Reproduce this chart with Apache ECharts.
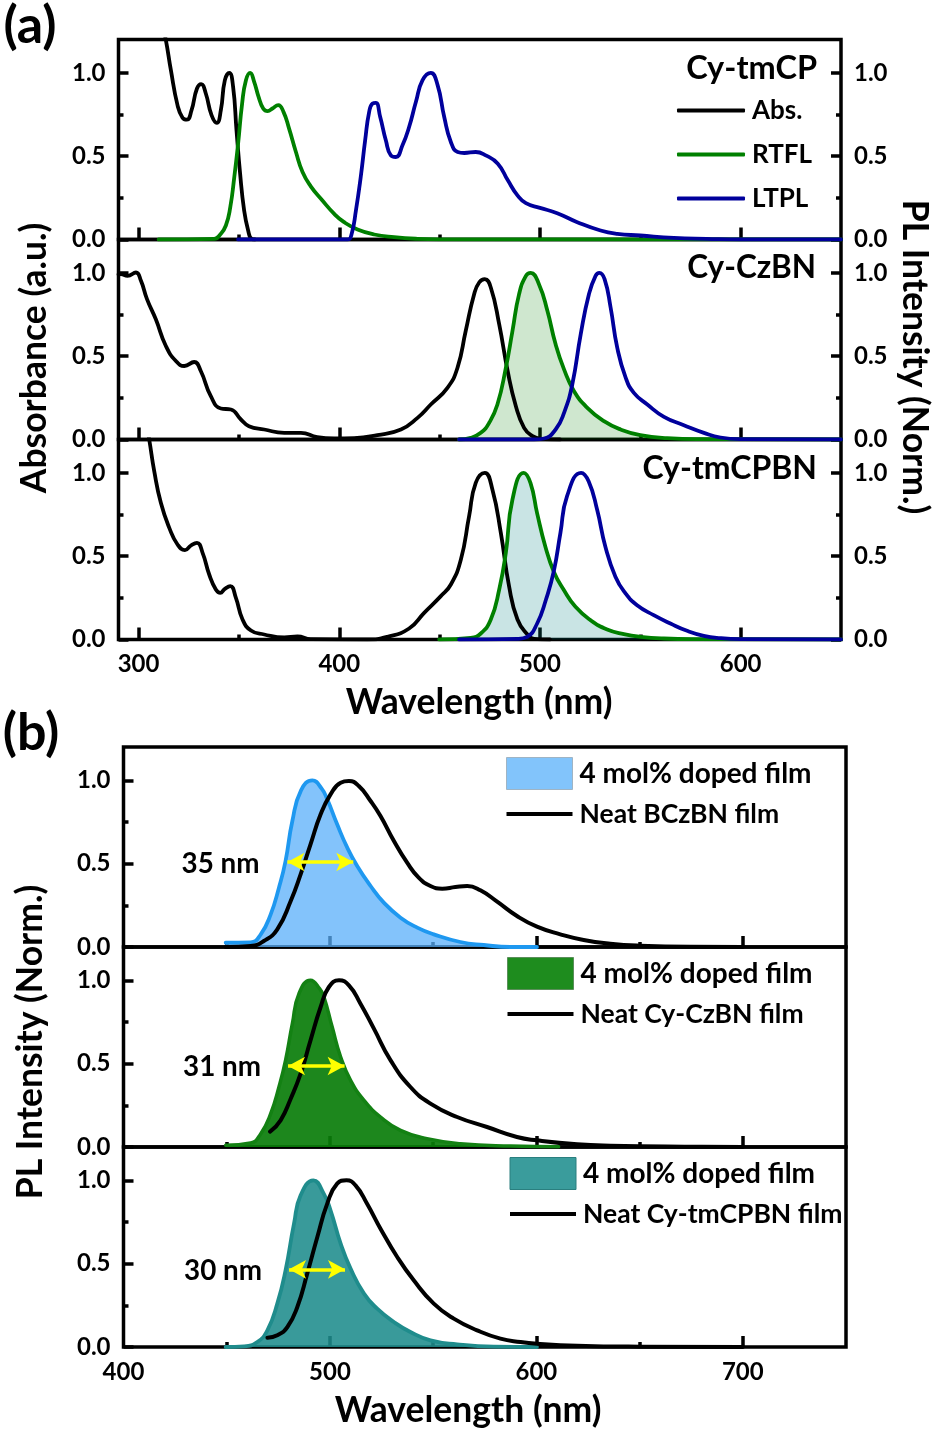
<!DOCTYPE html>
<html><head><meta charset="utf-8">
<style>html,body{margin:0;padding:0;background:#fff}#c{width:932px;height:1430px}</style>
<script src="https://cdn.jsdelivr.net/npm/echarts@6/dist/echarts.min.js"></script>
</head><body><div id="c"></div>
<script>
const FONT = 'Lato';
const absTmCP = [[310,1.4],[313.6,1.196],[316.1,1.016],[319.4,.806],[321.9,.731],[324.1,.719],[326.4,.776],[329.1,.906],[331.2,.932],[333.5,.876],[336.4,.745],[339,.70],[341,.776],[343,.956],[345.2,1],[347.1,.916],[348.8,.655],[350.6,.395],[352.6,.174],[354.6,.054],[356.3,.004],[358,0]];
const rtflTmCP = [[310,0],[337.7,.004],[340.7,.03],[343.5,.084],[345.7,.194],[347.7,.375],[349.6,.575],[351.6,.816],[353.5,.956],[355.6,1],[357.6,.946],[359.8,.856],[362.1,.786],[364.3,.77],[366.7,.786],[369.6,.806],[372.2,.766],[375,.665],[378.4,.525],[381.7,.405],[385.8,.319],[391.6,.234],[397.5,.154],[402.4,.104],[409.1,.06],[417.4,.03],[427.3,.014],[439,.004],[450,.001],[650,0]];
const ltplTmCP = [[349.6,0],[404.1,0],[406.1,.03],[408.3,.174],[410.7,.375],[412.9,.595],[414.9,.766],[416.6,.816],[418.2,.82],[420.4,.735],[423.2,.595],[425.7,.505],[428.2,.495],[431.5,.565],[434.8,.675],[438.2,.826],[441.5,.956],[445.6,1],[449,.926],[452.3,.735],[455.6,.585],[459,.525],[462.3,.519],[468,.525],[473,.505],[479,.455],[484,.355],[488.8,.265],[493,.218],[500,.19],[508.6,.158],[518.6,.104],[530.2,.054],[538.5,.034],[550,.024],[566.7,.01],[583,.004],[600,0],[650,0]];
const absCzBN = [[290,.99],[291.2,.992],[294.5,.982],[298.7,1.002],[301.2,.952],[304.2,.842],[308.6,.721],[313.6,.561],[318.6,.471],[322.8,.441],[327.7,.465],[331,.411],[336,.26],[341,.186],[346,.18],[351,.12],[355,.08],[362.6,.06],[372.6,.04],[380.9,.04],[389,.014],[397.5,.006],[407.4,.008],[419,.026],[430.7,.06],[439,.13],[445.6,.21],[453.9,.31],[458.9,.43],[463,.651],[467.2,.872],[469.7,.942],[472.5,.962],[475.5,.912],[479.7,.691],[483.9,.411],[488,.2],[492.1,.07],[496.3,.02],[500.4,.004],[510,0]];
const rtflCzBN = [[459.7,0],[465.5,.01],[470.5,.04],[474.7,.10],[478.8,.21],[483,.43],[486.3,.651],[489.6,.872],[493,.982],[495.4,1],[499.5,.932],[503.7,.772],[507.8,.571],[512,.421],[517,.29],[523.6,.19],[531.9,.11],[540.2,.06],[550,.026],[563.4,.008],[580,.002],[650,0]];
const ltplCzBN = [[459.7,0],[497,0],[502,.006],[507.8,.06],[512,.16],[516.1,.33],[520.3,.631],[524.4,.872],[527.7,.982],[529.6,1],[532.2,.962],[535.2,.792],[538.5,.551],[542.7,.371],[546.8,.28],[553.5,.21],[561.8,.136],[571.7,.086],[581.7,.04],[590,.012],[600,.002],[650,0]];
const absTmCPBN = [[303,1.35],[305.3,1.2],[307.8,1.01],[311.1,.82],[315.3,.67],[319.4,.57],[323.1,.536],[326.1,.564],[329.1,.58],[331.9,.52],[335.2,.39],[338.5,.30],[340.7,.28],[343,.304],[345.7,.32],[348.5,.25],[351.8,.12],[356,.054],[362.6,.03],[372.6,.012],[379.2,.018],[385.8,.002],[414,0],[424,.016],[434.8,.066],[442.3,.16],[450.6,.26],[455.6,.33],[460.6,.48],[464.7,.74],[468,.94],[472.5,1],[476.3,.90],[480.5,.64],[484.6,.32],[488.8,.12],[493.8,.03],[497,.004],[505,0]];
const rtflTmCPBN = [[449.8,0],[465.5,.01],[470.5,.036],[475.5,.12],[479.7,.30],[483,.52],[486.3,.84],[491.9,1],[495.3,.938],[498.6,.757],[502.7,.557],[506.9,.407],[511.9,.297],[517.7,.196],[525.2,.116],[533.5,.06],[541.8,.032],[550.1,.016],[561.7,.006],[578,.002],[650,0]];
const ltplTmCPBN = [[459.7,0],[488.8,.004],[493.6,.016],[498.6,.096],[503,.24],[506.9,.41],[510.2,.64],[513.5,.86],[520.5,1],[524.3,.948],[528.5,.778],[532.6,.557],[537.6,.377],[542.6,.277],[548.4,.206],[556.7,.146],[565,.096],[573.3,.052],[581.6,.022],[589.9,.008],[600,.002],[650,0]];
const dopedBCzBN = [[449.5,.026],[461.6,.028],[466.5,.076],[471.3,.196],[475.3,.356],[478.5,.516],[481.8,.756],[486,.94],[491.5,1],[496,.95],[498.7,.886],[503.5,.736],[508.4,.596],[513.2,.486],[519.7,.366],[526.1,.266],[534.2,.176],[542.3,.116],[550.3,.076],[563.2,.03],[574.5,.012],[587.4,0],[600.3,0]];
const neatBCzBN = [[449.5,0],[461.6,.006],[468,.036],[474.5,.106],[481,.276],[485.8,.436],[490.6,.616],[495.5,.796],[500.3,.916],[505.2,.986],[509.2,.996],[514,.966],[519.7,.876],[524.5,.786],[531,.636],[537.4,.506],[543,.416],[548.7,.366],[554.4,.35],[560.8,.36],[566.5,.366],[572.9,.34],[581,.272],[590.6,.186],[600.3,.122],[611.6,.076],[622.9,.042],[635.8,.02],[650,.008],[674.5,.001],[700,0]];
const dopedCzBN = [[449.5,.01],[461.6,.024],[466.5,.08],[471.3,.2],[475.3,.36],[478.5,.52],[481.8,.74],[485,.92],[490.6,1],[495,.95],[497.1,.90],[501.1,.72],[505.2,.54],[510,.40],[516.5,.28],[524.5,.18],[534.2,.10],[547,.05],[563.2,.02],[587.4,.006],[610.8,.002]];
const neatCzBN = [[471,.092],[476.1,.16],[481,.29],[485.8,.44],[490.6,.64],[495.5,.84],[499.5,.96],[504.4,1],[509.2,.97],[514.8,.86],[521.3,.71],[529.4,.52],[539,.36],[548.7,.26],[561.6,.18],[576.1,.12],[590.6,.06],[600.3,.04],[619.7,.016],[635.8,.008],[680,.002],[700,0]];
const dopedTmCPBN = [[449.5,0],[458.4,.004],[464.8,.03],[469.7,.10],[474.5,.26],[478.5,.46],[482.6,.74],[485.8,.91],[492,1],[497,.92],[500.3,.82],[505.2,.62],[510,.47],[516.5,.32],[522.9,.23],[531,.15],[539,.09],[548.7,.04],[561.6,.016],[579.4,.002],[600.3,0]];
const neatTmCPBN = [[469.7,.056],[474.5,.07],[479.4,.12],[484.2,.24],[489,.44],[493.9,.66],[498.7,.86],[503.5,.98],[508,1],[512.4,.97],[518,.86],[524.5,.71],[532.6,.54],[540.6,.40],[550.3,.26],[560,.17],[571.3,.10],[582.6,.05],[592.3,.03],[600.3,.02],[619.7,.008],[650,.002],[700,0]];
const fwhmB1 = [[479.4,.51],[511.3,.51]];
const fwhmB2 = [[479.7,.486],[507.1,.486]];
const fwhmB3 = [[480.2,.466],[507.3,.466]];
const yLabels = [0,.5,1], yMinor = [.25,.75];
const xLabelsA = [300,400,500,600], xMinorA = [350,450,550];
const xLabelsB = [400,500,600,700], xTicksB = [500,600,700], xMinorB = [450,550,650];

const BLACK='#000', GREEN='#008000', BLUE='#00009c';
const grids=[], xAxes=[], yAxes=[], series=[];
function axisText(){return {fontFamily:FONT,fontWeight:'bold',fontSize:24,color:'#000'};}
function tick(len,vals){return {show:true,inside:true,length:len,customValues:vals,lineStyle:{color:'#000',width:3.5}};}
function addPanel(g){
  const gi=grids.length;
  grids.push({left:g.left,width:g.width,top:g.top,height:200,show:true,borderColor:'#000',borderWidth:3.5,backgroundColor:'transparent',containLabel:false});
  const base={type:'value',gridIndex:gi,min:g.min,max:g.max,splitLine:{show:false},axisLine:{show:false,onZero:false},minorTick:{show:false},minorSplitLine:{show:false}};
  const xMain=xAxes.length;
  xAxes.push({...base,position:'bottom',axisTick:tick(g.xLong,g.xTicks),axisLabel:g.labels?{...axisText(),show:true,margin:13,customValues:g.xLabels,formatter:v=>String(v)}:{show:false}});
  xAxes.push({...base,position:'bottom',axisTick:tick(5,g.xMinor),axisLabel:{show:false}});
  const yb={type:'value',gridIndex:gi,min:0,max:1.2,splitLine:{show:false},axisLine:{show:false,onZero:false}};
  const yMain=yAxes.length;
  const yl={...axisText(),show:true,margin:13,customValues:yLabels,formatter:v=>v.toFixed(1)};
  yAxes.push({...yb,position:'left',axisTick:tick(10,yLabels),axisLabel:yl});
  yAxes.push({...yb,position:'left',axisTick:tick(5,yMinor),axisLabel:{show:false}});
  if(g.right){
    yAxes.push({...yb,position:'right',axisTick:tick(10,yLabels),axisLabel:yl});
    yAxes.push({...yb,position:'right',axisTick:tick(5,yMinor),axisLabel:{show:false}});
  }
  return {x:xMain,y:yMain};
}
function line(ax,name,data,color,width,area,arrow){
  const s={type:'line',name,data,xAxisIndex:ax.x,yAxisIndex:ax.y,symbol:'none',smooth:.5,
    lineStyle:{color,width,cap:'round',join:'round'},itemStyle:{color},silent:true,animation:false};
  if(area) s.areaStyle={color:area,opacity:1};
  if(arrow) s.markLine={silent:true,animation:false,symbol:['arrow','arrow'],symbolSize:[14,17],label:{show:false},
    lineStyle:{color:'#ffff00',width:3.5,type:'solid'},data:[[{coord:arrow[0]},{coord:arrow[1]}]]};
  series.push(s);
}
const A={left:118.5,width:722.5,min:290,max:650,xLong:12,xTicks:xLabelsA,xMinor:xMinorA,xLabels:xLabelsA,right:true};
const a1=addPanel({...A,top:39.5});
const a2=addPanel({...A,top:239.5});
const a3=addPanel({...A,top:439.5,labels:true});
line(a1,'Abs.',absTmCP,BLACK,3.8);
line(a1,'RTFL',rtflTmCP,GREEN,3.8);
line(a1,'LTPL',ltplTmCP,BLUE,3.8);
line(a2,'Abs.',absCzBN,BLACK,3.8);
line(a2,'RTFL',rtflCzBN,GREEN,3.8,'rgba(0,128,0,0.19)');
line(a2,'LTPL',ltplCzBN,BLUE,3.8);
line(a3,'Abs.',absTmCPBN,BLACK,3.8);
line(a3,'RTFL',rtflTmCPBN,GREEN,3.8,'rgba(0,128,128,0.21)');
line(a3,'LTPL',ltplTmCPBN,BLUE,3.8);

const B={left:123.5,width:722.5,min:400,max:750,xLong:11,xTicks:xTicksB,xMinor:xMinorB,xLabels:xLabelsB};
const b1=addPanel({...B,top:747});
const b2=addPanel({...B,top:947});
const b3=addPanel({...B,top:1147,labels:true});
line(b1,'4 mol% doped film',dopedBCzBN,'#1e98f0',3.8,'rgba(90,175,250,0.75)');
line(b1,'Neat BCzBN film',neatBCzBN,BLACK,4,null,fwhmB1);
line(b2,'4 mol% doped film',dopedCzBN,'#138113',3.5,'rgba(10,125,10,0.92)');
line(b2,'Neat Cy-CzBN film',neatCzBN,BLACK,4,null,fwhmB2);
line(b3,'4 mol% doped film',dopedTmCPBN,'#1f8c8c',3.8,'rgba(30,140,140,0.88)');
line(b3,'Neat Cy-tmCPBN film',neatTmCPBN,BLACK,4,null,fwhmB3);

const LINE_IN_SWATCH='path://M0,0h.01v.01zM0,14h66v4H0zM66,32h-.01v-.01z';
function legendB(left,top,neat,fill,border){
  return {left,top,orient:'vertical',itemWidth:66,itemHeight:32,itemGap:8,selectedMode:false,padding:0,
    textStyle:{fontFamily:FONT,fontWeight:'bold',fontSize:28,color:'#000',padding:[0,0,0,2]},
    data:[{name:'4 mol% doped film',icon:'rect',itemStyle:{color:fill,borderColor:border,borderWidth:1}},
          {name:neat,icon:LINE_IN_SWATCH,itemStyle:{color:'#000',borderWidth:0},textStyle:{fontFamily:FONT,fontWeight:'bold',fontSize:26.5,color:'#000',padding:[0,0,0,2]}}]};
}
function legA(name,color){return {name,icon:'roundRect',itemStyle:{color,borderWidth:0}};}
const legends=[
  {left:677,top:97.5,orient:'vertical',itemWidth:68,itemHeight:4,itemGap:18,selectedMode:false,padding:0,
   textStyle:{fontFamily:FONT,fontWeight:'bold',fontSize:26,color:'#000',padding:[0,0,0,2]},
   data:[legA('Abs.',BLACK),legA('RTFL',GREEN),legA('LTPL',BLUE)]},
  legendB(506,757,'Neat BCzBN film','#82c4fb','#9fb4c4'),
  legendB(507,957,'Neat Cy-CzBN film','#1e8c1e','#5a8f5a'),
  legendB(509.5,1157,'Neat Cy-tmCPBN film','#3a9c9c','#2a7f7f')
];
function T(text,x,y,size,opts){
  return {type:'text',x,y,rotation:opts&&opts.rot||0,style:{text,font:`bold ${size}px ${FONT}`,fill:'#000',
    textAlign:opts&&opts.align||'center',textVerticalAlign:'middle'},silent:true,z:20};
}
const R=Math.PI/2;
const graphics=[
  T('(a)',30,26,52),T('(b)',31,733,52),
  T('Cy-tmCP',817,69,32.5,{align:'right'}),T('Cy-CzBN',816,268,31.5,{align:'right'}),T('Cy-tmCPBN',817,469,32,{align:'right'}),
  T('Absorbance (a.u.)',35,358,35.5,{rot:R}),T('PL Intensity (Norm.)',914,357,35.5,{rot:-R}),
  T('Wavelength (nm)',479,703,35.5),T('PL Intensity (Norm.)',31,1042,35.5,{rot:R}),T('Wavelength (nm)',468,1411,35.5),
  T('35 nm',220.5,864,27.8),T('31 nm',222,1067,27.8),T('30 nm',223,1271,27.8)
];
const chart=echarts.init(document.getElementById('c'),null,{renderer:'canvas',width:932,height:1430});
chart.setOption({animation:false,backgroundColor:'#fff',grid:grids,xAxis:xAxes,yAxis:yAxes,series,legend:legends,graphic:{elements:graphics},tooltip:{show:false}});
</script></body></html>
